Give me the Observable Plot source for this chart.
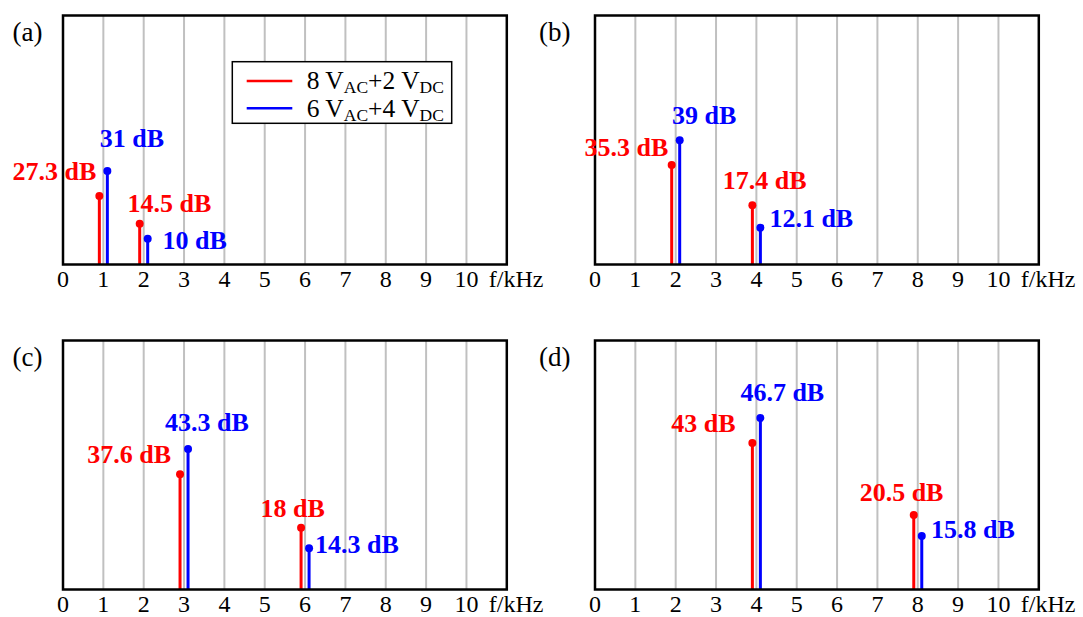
<!DOCTYPE html>
<html>
<head>
<meta charset="utf-8">
<script src="https://cdn.jsdelivr.net/npm/d3@7"></script>
<script src="https://cdn.jsdelivr.net/npm/@observablehq/plot@0.6"></script>
<style>
  html, body { margin: 0; padding: 0; background: #ffffff; }
  #chart { position: relative; width: 1083px; height: 617px; overflow: visible; background: #ffffff; }
  #chart svg { position: absolute; }
</style>
</head>
<body>
<div id="chart"></div>
<script>
// ---------- data ----------
const panelLabels = ["(a)", "(b)", "(c)", "(d)"];
const fundamentalKHz = [1, 2, 3, 4];
const secondHarmonicKHz = [2, 4, 6, 8];
const seriesNames = ["8 V_AC+2 V_DC", "6 V_AC+4 V_DC"];
// dB values written on the chart
const redDb = [[27.3, 14.5], [35.3, 17.4], [37.6, 18], [43, 20.5]];
const blueDb = [[31, 10], [39, 12.1], [43.3, 14.3], [46.7, 15.8]];
// drawn stem heights (relative level, 0 = axis, 1 = top of frame)
const redLevel = [[0.275, 0.164], [0.400, 0.238], [0.463, 0.248], [0.588, 0.299]];
const blueLevel = [[0.376, 0.103], [0.499, 0.148], [0.564, 0.166], [0.689, 0.215]];
const xTicks = [0, 1, 2, 3, 4, 5, 6, 7, 8, 9, 10];
const gridTicks = [1, 2, 3, 4, 5, 6, 7, 8, 9, 10];
const xDomain = [0, 11];
const axisLabel = "f/kHz";

// ---------- label placement (anchor, dx, dy relative to each dot) ----------
const redPlacement = [
  [["end", -3.1, -15.7], ["start", -12.1, -11.7]],
  [["end", -3.4, -9.0], ["start", -29.7, -16.0]],
  [["end", -8.9, -11.6], ["start", -40.6, -11.0]],
  [["end", -16.9, -11.3], ["start", -54.1, -14.0]]
];
const bluePlacement = [
  [["start", -7.5, -23.4], ["start", 14.8, 9.7]],
  [["start", -7.6, -16.7], ["start", 9.0, -1.0]],
  [["start", -23.1, -18.3], ["start", 5.9, 4.7]],
  [["start", -20.0, -17.3], ["start", 9.3, 2.3]]
];

// ---------- styles ----------
const FONT = '"Liberation Serif", "Times New Roman", Times, serif';
const RED = "#ff0000";
const BLUE = "#0000ff";
const STEM_DX = 4;
const W = 540, H = 300;
const positions = [[0, 0], [532, 0], [0, 325], [532, 325]];

function makePanel(i) {
  const freqs = [fundamentalKHz[i], secondHarmonicKHz[i]];
  const red = freqs.map((f, k) => ({f, level: redLevel[i][k], db: redDb[i][k]}));
  const blue = freqs.map((f, k) => ({f, level: blueLevel[i][k], db: blueDb[i][k]}));

  const labelMarks = [];
  red.forEach((d, k) => {
    const [anchor, dx, dy] = redPlacement[i][k];
    labelMarks.push(Plot.text([d], {
      x: "f", y: "level", text: (d) => `${d.db} dB`,
      textAnchor: anchor, lineAnchor: "bottom",
      dx: -STEM_DX + dx, dy,
      fill: RED, fontWeight: "bold", fontSize: 26, fontFamily: FONT
    }));
  });
  blue.forEach((d, k) => {
    const [anchor, dx, dy] = bluePlacement[i][k];
    labelMarks.push(Plot.text([d], {
      x: "f", y: "level", text: (d) => `${d.db} dB`,
      textAnchor: anchor, lineAnchor: "bottom",
      dx: STEM_DX + dx, dy,
      fill: BLUE, fontWeight: "bold", fontSize: 26, fontFamily: FONT
    }));
  });

  return Plot.plot({
    width: W,
    height: H,
    marginLeft: 62.5,
    marginRight: 33.7,
    marginTop: 15,
    marginBottom: 36,
    x: {domain: xDomain, label: null},
    y: {domain: [0, 1], axis: null, label: null},
    style: {
      fontFamily: FONT,
      fontSize: "24px",
      overflow: "visible",
      background: "transparent",
      maxWidth: "none",
      color: "#000"
    },
    marks: [
      Plot.ruleX(gridTicks, {stroke: "#c0c0c0", strokeWidth: 2}),
      Plot.ruleX(red, {x: "f", y1: 0, y2: "level", dx: -STEM_DX, stroke: RED, strokeWidth: 3}),
      Plot.ruleX(blue, {x: "f", y1: 0, y2: "level", dx: STEM_DX, stroke: BLUE, strokeWidth: 3}),
      Plot.dot(red, {x: "f", y: "level", dx: -STEM_DX, r: 4, fill: RED, stroke: "none"}),
      Plot.dot(blue, {x: "f", y: "level", dx: STEM_DX, r: 4, fill: BLUE, stroke: "none"}),
      Plot.frame({stroke: "#000", strokeWidth: 2.5}),
      Plot.axisX(xTicks, {
        tickSize: 0, tickPadding: 5, fontSize: 24, fontFamily: FONT,
        label: null, tickFormat: (d) => String(d)
      }),
      Plot.text([axisLabel], {
        frameAnchor: "bottom-right", textAnchor: "start", lineAnchor: "top",
        dx: -18, dy: 5, fontSize: 24, fontFamily: FONT
      }),
      Plot.text([panelLabels[i]], {
        frameAnchor: "top-left", textAnchor: "start", lineAnchor: "bottom",
        dx: i % 2 ? -56 : -50.5, dy: 25.5, fontSize: 27, fontFamily: FONT
      }),
      ...labelMarks
    ]
  });
}

const chart = document.getElementById("chart");
const svgs = panelLabels.map((_, i) => {
  const svg = makePanel(i);
  svg.style.left = positions[i][0] + "px";
  svg.style.top = positions[i][1] + "px";
  chart.appendChild(svg);
  return svg;
});

// ---------- legend inside panel (a) ----------
(function addLegend(svgEl) {
  const svg = d3.select(svgEl);
  const g = svg.append("g")
    .attr("font-family", FONT)
    .attr("text-anchor", "start");
  g.append("rect")
    .attr("x", 232.3).attr("y", 61.7)
    .attr("width", 219.4).attr("height", 61.6)
    .attr("fill", "#fff").attr("stroke", "#000").attr("stroke-width", 1.5);
  const colors = [RED, BLUE];
  const rowY = [81, 108.3];
  const baseY = [89.4, 116.8];
  seriesNames.forEach((name, k) => {
    g.append("line")
      .attr("x1", 246.7).attr("x2", 292.3)
      .attr("y1", rowY[k]).attr("y2", rowY[k])
      .attr("stroke", colors[k]).attr("stroke-width", 2.5);
    const t = g.append("text")
      .attr("x", 306.7).attr("y", baseY[k])
      .attr("text-anchor", "start")
      .attr("font-size", 25.5)
      .attr("fill", "#000")
      .style("white-space", "pre");
    const parts = name.split(/_([A-Z]+)/);
    let shifted = false;
    parts.forEach((p, j) => {
      if (!p) return;
      const isSub = j % 2 === 1;
      const ts = t.append("tspan").text(p);
      if (isSub) {
        ts.attr("font-size", 17.5).attr("dy", shifted ? 0 : 4);
        shifted = true;
      } else {
        ts.attr("font-size", 25.5).attr("dy", shifted ? -4 : 0);
        shifted = false;
      }
    });
  });
})(svgs[0]);
</script>
</body>
</html>
